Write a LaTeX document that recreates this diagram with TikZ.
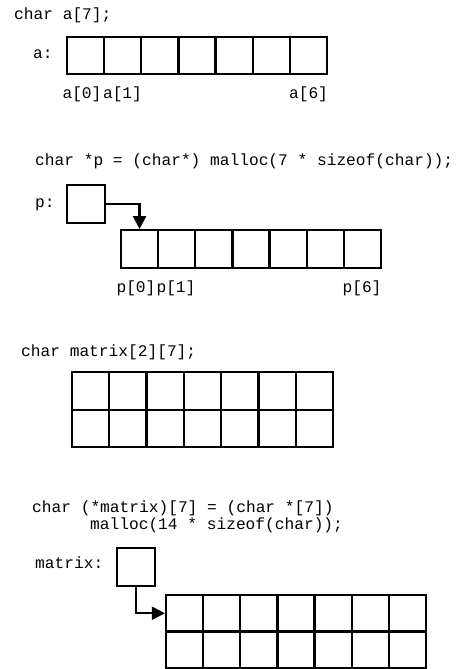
\documentclass[tikz,border=0pt]{standalone}
\usepackage{fontspec}
\setmonofont{Liberation Mono}
\usetikzlibrary{arrows.meta}
\tikzset{
  code/.style={anchor=base west, inner sep=0pt, font=\ttfamily\fontsize{16.2}{18}\selectfont},
  lbl/.style={anchor=base, inner sep=0pt, font=\ttfamily\fontsize{16.2}{18}\selectfont},
  cell/.style={draw, line width=2.3pt, minimum width=37.14pt, minimum height=37.5pt, inner sep=0pt},
  ptr/.style={line width=2.3pt, -{Triangle[length=13pt,width=13pt]}}
}
\begin{document}
\begin{tikzpicture}[x=1pt,y=-1pt]
\useasboundingbox (0,0) rectangle (459,669);
% section 1
\node[code] (t1) at (14,20) {char a[7];};
\node[code] (la) at (33,59) {a:};
\foreach \i in {0,...,6} \node[cell] (a\i) at ({67+37.14*(\i+0.5)},55.5) {};
\node[lbl] (a0l) at (82,99) {a[0]};
\node[lbl] (a1l) at (122.5,99) {a[1]};
\node[lbl] (a6l) at (308.5,99) {a[6]};
% section 2
\node[code] (t2) at (35,165) {char *p = (char*) malloc(7 * sizeof(char));};
\node[code] (lp) at (35,207) {p:};
\node[cell, minimum width=38pt, minimum height=38pt] (pbox) at (86,204) {};
\foreach \i in {0,...,6} \node[cell] (p\i) at ({121+37.14*(\i+0.5)},249) {};
\draw[ptr] (pbox.east) -| (p0.north);
\node[lbl] (p0l) at (136,292) {p[0]};
\node[lbl] (p1l) at (176,292) {p[1]};
\node[lbl] (p6l) at (362,292) {p[6]};
% section 3
\node[code] (t3) at (21,356) {char matrix[2][7];};
\foreach \i in {0,...,6} {
  \node[cell, minimum width=37.29pt] (s\i) at ({72+37.29*(\i+0.5)},391) {};
  \node[cell, minimum width=37.29pt] (r\i) at ({72+37.29*(\i+0.5)},428.5) {};
}
% section 4
\node[code] (t4) at (32,512) {char (*matrix)[7] = (char *[7])};
\node[code] (t5) at (90,529) {malloc(14 * sizeof(char));};
\node[code] (lm) at (35,568) {matrix:};
\node[cell, minimum width=38pt, minimum height=38pt] (mbox) at (136,567) {};
\foreach \i in {0,...,6} {
  \node[cell, minimum height=36.5pt] (m\i) at ({166+37.14*(\i+0.5)},613.25) {};
  \node[cell, minimum height=36.5pt] (n\i) at ({166+37.14*(\i+0.5)},649.75) {};
}
\draw[ptr] (mbox.south) |- (m0.west);
\end{tikzpicture}
\end{document}
